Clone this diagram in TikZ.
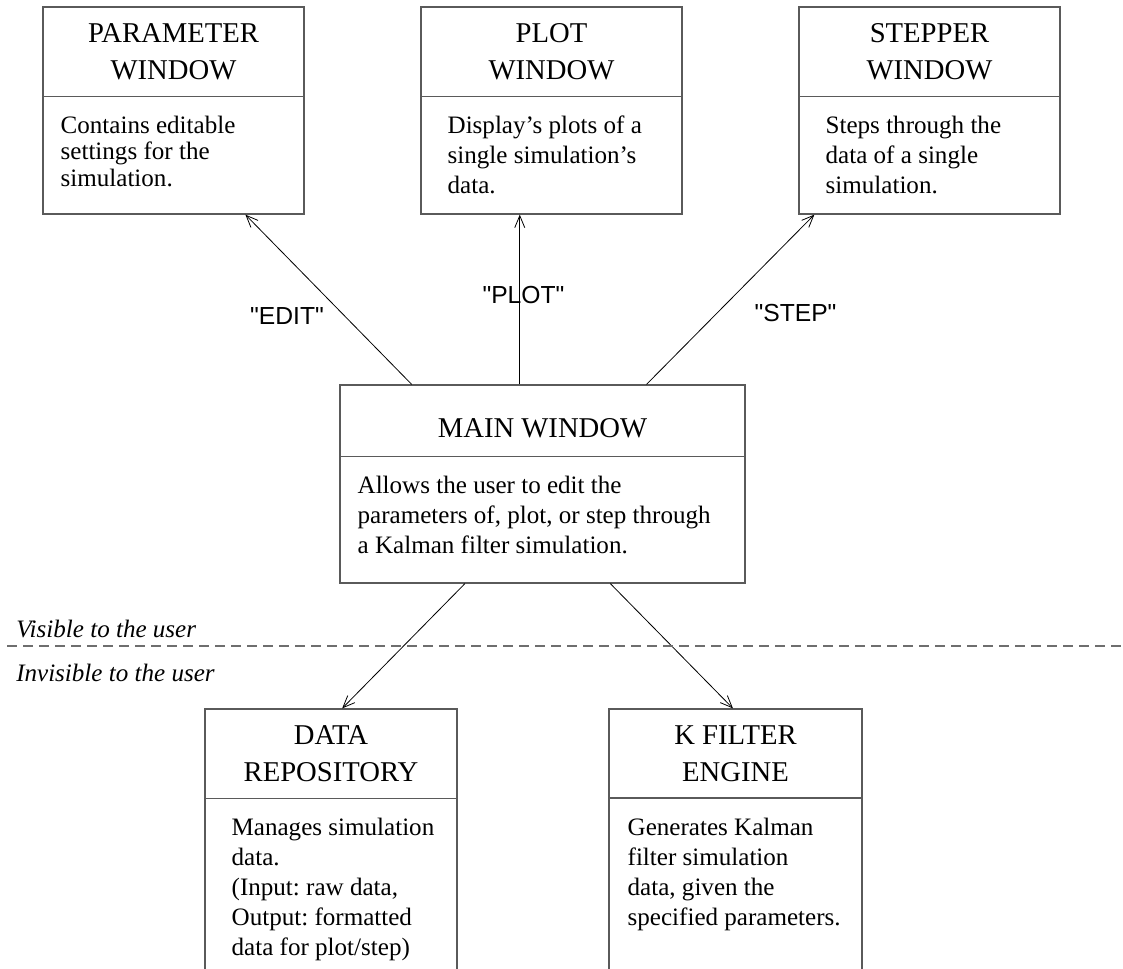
\documentclass[tikz,border=0pt]{standalone}
\usepackage{fontspec}
\setmainfont{Liberation Serif}
\newfontfamily\labfont{Liberation Sans}
\usetikzlibrary{arrows.meta,calc}
\definecolor{boxgray}{HTML}{5A5A5A}
\definecolor{dashgray}{HTML}{6E6E6E}
\frenchspacing
\tikzset{
  umlbox/.style={draw=boxgray, line width=0.9pt, inner sep=0pt},
  divider/.style={draw=boxgray, line width=0.9pt},
  titletext/.style={inner sep=0pt, anchor=north, align=center,
    font=\fontsize{21.5pt}{27.6pt}\selectfont},
  bodytext/.style={inner sep=0pt, anchor=north west, align=left,
    font=\fontsize{18.8pt}{22.5pt}\selectfont},
  conn/.style={draw=black, line width=0.6pt,
    -{Straight Barb[length=9pt,width=7.5pt,line width=0.6pt]}},
  conlabel/.style={inner sep=0pt, font=\labfont\fontsize{18.5pt}{22pt}\selectfont},
  sidetext/.style={inner sep=0pt, anchor=base west,
    font=\fontsize{18.8pt}{22.5pt}\selectfont\itshape},
}
\begin{document}
\begin{tikzpicture}[x=0.75pt,y=-0.75pt]
\useasboundingbox (0,0) rectangle (1123,968);

% boxes
\node[umlbox, minimum width=195.75pt, minimum height=155.25pt] (param) at (173.5,110.5) {};
\node[umlbox, minimum width=195.75pt, minimum height=155.25pt] (plot) at (551.5,110.5) {};
\node[umlbox, minimum width=195.75pt, minimum height=155.25pt] (stepper) at (929.5,110.5) {};
\node[umlbox, minimum width=303.75pt, minimum height=148.5pt] (main) at (542.5,484) {};
\node[umlbox, minimum width=189pt, minimum height=199.5pt] (data) at (331,842) {};
\node[umlbox, minimum width=189.75pt, minimum height=199.5pt] (kf) at (735.5,842) {};

% dividers
\draw[divider] ($(param.north west)+(0,90)$) -- ($(param.north east)+(0,90)$);
\draw[divider] ($(plot.north west)+(0,90)$) -- ($(plot.north east)+(0,90)$);
\draw[divider] ($(stepper.north west)+(0,90)$) -- ($(stepper.north east)+(0,90)$);
\draw[divider] ($(main.north west)+(0,72)$) -- ($(main.north east)+(0,72)$);
\draw[divider] ($(data.north west)+(0,90)$) -- ($(data.north east)+(0,90)$);
\draw[divider] ($(kf.north west)+(0,89.5)$) -- ($(kf.north east)+(0,89.5)$);

% titles
\node[titletext] (paramT) at ($(param.north)+(0,17)$) {PARAMETER\\WINDOW};
\node[titletext] (plotT) at ($(plot.north)+(0,17)$) {PLOT\\WINDOW};
\node[titletext] (stepperT) at ($(stepper.north)+(0,17)$) {STEPPER\\WINDOW};
\node[titletext] (mainT) at ($(main.north)+(0,34)$) {MAIN WINDOW};
\node[titletext] (dataT) at ($(data.north)+(0,17)$) {DATA\\REPOSITORY};
\node[titletext] (kfT) at ($(kf.north)+(0,17)$) {K FILTER\\ENGINE};

% bodies
\node[bodytext, font=\fontsize{18.8pt}{20pt}\selectfont] (paramB) at ($(param.north west)+(18,109)$)
  {Contains editable\\settings for the\\simulation.};
\node[bodytext] (plotB) at ($(plot.north west)+(27,109)$)
  {Display’s plots of a\\single simulation’s\\data.};
\node[bodytext] (stepperB) at ($(stepper.north west)+(27,109)$)
  {Steps through the\\data of a single\\simulation.};
\node[bodytext] (mainB) at ($(main.north west)+(18,91)$)
  {Allows the user to edit the\\parameters of, plot, or step through\\a Kalman filter simulation.};
\node[bodytext] (dataB) at ($(data.north west)+(27,109)$)
  {Manages simulation\\data.\\(Input: raw data,\\Output: formatted\\data for plot/step)};
\node[bodytext] (kfB) at ($(kf.north west)+(19,109)$)
  {Generates Kalman\\filter simulation\\data, given the\\specified parameters.};

% connector end points
\coordinate (eS) at ($(main.north west)!0.178!(main.north east)$);
\coordinate (eE) at ($(param.south west)!0.774!(param.south east)$);
\coordinate (pS) at ($(main.north west)!0.444!(main.north east)$);
\coordinate (pE) at (pS |- plot.south);
\coordinate (sS) at ($(main.north west)!0.756!(main.north east)$);
\coordinate (sE) at ($(stepper.south west)!0.061!(stepper.south east)$);
\coordinate (dS) at ($(main.south west)!0.309!(main.south east)$);
\coordinate (dE) at ($(data.north west)!0.544!(data.north east)$);
\coordinate (kS) at ($(main.south west)!0.667!(main.south east)$);
\coordinate (kE) at ($(kf.north west)!0.49!(kf.north east)$);

\draw[conn] (eS) -- (eE);
\draw[conn] (pS) -- (pE);
\draw[conn] (sS) -- (sE);
\draw[conn] (dS) -- (dE);
\draw[conn] (kS) -- (kE);

% connector labels
\node[conlabel] (editL) at (287,316) {"EDIT"};
\node[conlabel] (plotL) at (523.5,295) {"PLOT"};
\node[conlabel] (stepL) at (795.5,313) {"STEP"};

% visibility boundary
\coordinate (bL) at (7,646);
\coordinate (bR) at (1123,646);
\draw[draw=dashgray, line width=1.1pt, dash pattern=on 7.5pt off 4.5pt] (bL) -- (bR);
\node[sidetext] (visT) at (16,637) {Visible to the user};
\node[sidetext] (invT) at (16,681) {Invisible to the user};
\end{tikzpicture}
\end{document}
